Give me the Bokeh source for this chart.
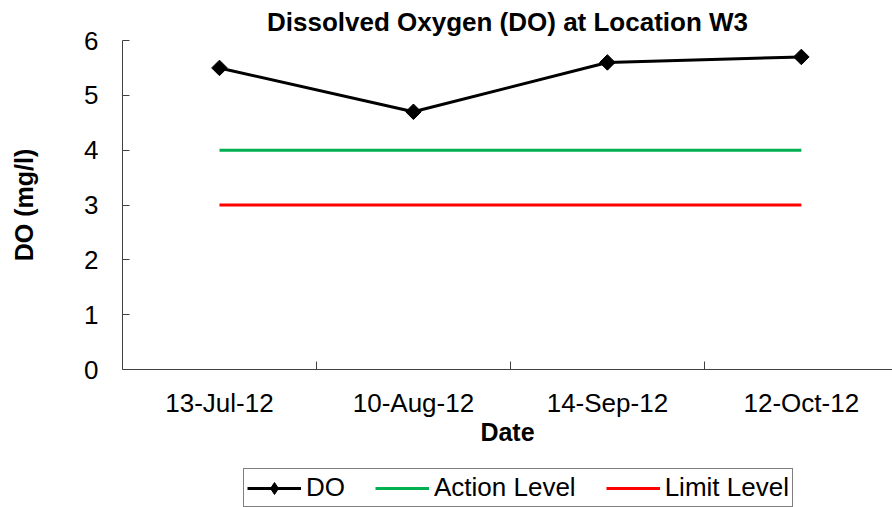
from bokeh.plotting import figure
from bokeh.layouts import column
from bokeh.models import Range1d, FixedTicker, Legend, LegendItem
from bokeh.embed import file_html
from bokeh.resources import INLINE

# ---- data ----
dates = ["13-Jul-12", "10-Aug-12", "14-Sep-12", "12-Oct-12"]
do_values = [5.5, 4.7, 5.6, 5.7]
action_level = [4, 4, 4, 4]
limit_level = [3, 3, 3, 3]
y_ticks = [0, 1, 2, 3, 4, 5, 6]
series_names = ["DO", "Action Level", "Limit Level"]

FONT = "Liberation Sans"
x_pos = [i + 0.5 for i in range(len(dates))]

p = figure(width=892, height=462, output_backend="svg", toolbar_location=None,
           x_range=Range1d(0, 3.97), y_range=Range1d(0, 6),
           min_border_left=122, min_border_right=0, min_border_top=39,
           min_border_bottom=93)
p.outline_line_color = None
p.background_fill_color = "white"
p.border_fill_color = "white"
p.xgrid.visible = False
p.ygrid.visible = False

p.title.text = "Dissolved Oxygen (DO) at Location W3"
p.title.align = "center"
p.title.offset = 3
p.title.text_font = FONT
p.title.text_font_size = "26px"
p.title.text_font_style = "bold"
p.title.text_color = "black"
p.title.standoff = 8

# axes
xa = p.xaxis[0]
xa.ticker = FixedTicker(ticks=x_pos, minor_ticks=[1, 2, 3])
xa.major_label_overrides = {x: d for x, d in zip(x_pos, dates)}
xa.major_tick_in = 0
xa.major_tick_out = 0
xa.minor_tick_in = 8
xa.minor_tick_out = 0
xa.major_label_standoff = 18
xa.axis_label = "Date"
xa.axis_label_standoff = -3

ya = p.yaxis[0]
ya.ticker = FixedTicker(ticks=y_ticks)
ya.major_tick_in = 7
ya.major_tick_out = 0
ya.minor_tick_line_color = None
ya.major_label_standoff = 24
ya.axis_label = "DO (mg/l)"
ya.axis_label_standoff = 43

for ax in (xa, ya):
    ax.axis_line_color = "#404040"
    ax.major_tick_line_color = "#404040"
    ax.major_label_text_font = FONT
    ax.major_label_text_font_size = "26px"
    ax.major_label_text_color = "black"
    ax.axis_label_text_font = FONT
    ax.axis_label_text_font_size = "25px"
    ax.axis_label_text_font_style = "bold"
    ax.axis_label_text_color = "black"
xa.minor_tick_line_color = "#404040"


def draw_series(fig, marker="square", angle=0.785398):
    r_action = fig.line(x_pos, action_level, line_color="#00B050", line_width=3)
    r_limit = fig.line(x_pos, limit_level, line_color="#FF0000", line_width=3)
    r_do = fig.line(x_pos, do_values, line_color="black", line_width=3)
    r_do_m = fig.scatter(x_pos, do_values, marker=marker, angle=angle, size=11,
                         fill_color="black", line_color="black")
    return r_do, r_do_m, r_action, r_limit


draw_series(p)

# legend strip below the chart (same series, glyphs hidden, only the legend shows)
lg = figure(width=892, height=45, output_backend="svg", toolbar_location=None,
            x_axis_type=None, y_axis_type=None,
            x_range=Range1d(0, 3.97), y_range=Range1d(0, 6),
            min_border_left=0, min_border_right=0, min_border_top=0, min_border_bottom=0)
lg.outline_line_color = None
lg.xgrid.visible = False
lg.ygrid.visible = False
l_do, l_do_m, l_action, l_limit = draw_series(lg, marker="diamond", angle=0)
for r in (l_do, l_do_m, l_action, l_limit):
    r.visible = False

legend = Legend(items=[
    LegendItem(label=series_names[0], renderers=[l_do, l_do_m]),
    LegendItem(label=series_names[1], renderers=[l_action]),
    LegendItem(label=series_names[2], renderers=[l_limit]),
], orientation="horizontal", location=(121, 0))
legend.label_text_font = FONT
legend.label_text_font_size = "26px"
legend.label_text_color = "black"
legend.glyph_width = 54
legend.glyph_height = 30
legend.label_standoff = 5
legend.spacing = 30
legend.padding = 3
legend.margin = 0
legend.border_line_color = "black"
legend.border_line_width = 1
lg.add_layout(legend, "center")

layout = column(p, lg, spacing=0)
open("out.html", "w").write(file_html(layout, INLINE))
